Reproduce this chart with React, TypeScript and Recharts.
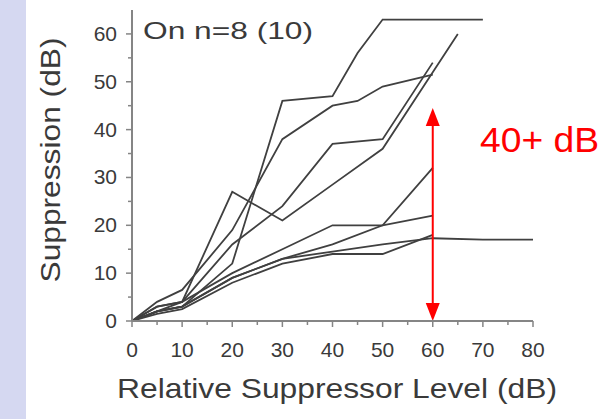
import {LineChart, Line, XAxis, YAxis, ReferenceLine} from "recharts";

// relative suppressor level (dB) and suppression (dB) for each curve
const levelsA = [0, 5, 10, 20, 30, 40, 45, 50, 60, 70];
const suppA = [0, 2, 3, 12, 46, 47, 56, 63, 63, 63];
const levelsB = [0, 5, 10, 20, 30, 40, 50, 60, 65];
const suppB = [0, 3, 4, 27, 21, 28.5, 36, 52, 60];
const levelsC = [0, 5, 10, 20, 30, 40, 50, 60];
const suppC = [0, 3, 4, 16, 24, 37, 38, 54];
const levelsD = [0, 5, 10, 20, 30, 40, 45, 50, 60];
const suppD = [0, 4, 6.5, 19, 38, 45, 46, 49, 51.5];
const levelsE = [0, 5, 10, 20, 30, 40, 50, 60];
const suppE = [0, 2, 3, 9, 13, 16, 20, 32];
const levelsF = [0, 5, 10, 20, 30, 40, 50, 60];
const suppF = [0, 2, 4, 10, 15, 20, 20, 22];
const levelsG = [0, 5, 10, 20, 30, 40, 50, 60];
const suppG = [0, 1.5, 2.5, 8, 12, 14, 14, 18];
const levelsH = [0, 5, 10, 20, 30, 40, 50, 60, 70, 80];
const suppH = [0, 2, 3, 9, 13, 14.5, 16, 17.3, 17, 17];

const xTicks = [0, 5, 10, 15, 20, 25, 30, 35, 40, 45, 50, 55, 60, 65, 70, 75, 80];
const yTicks = [0, 5, 10, 15, 20, 25, 30, 35, 40, 45, 50, 55, 60];

// the red arrow: at 60 dB, from 0 up to ~44 dB
const arrowLevel = 60;
const arrowFrom = 0;
const arrowTo = 44.5;

function toPoints(levels: number[], supp: number[]) {
  return levels.map((x, i) => ({x: x, y: supp[i]}));
}

const series = [
  toPoints(levelsA, suppA),
  toPoints(levelsB, suppB),
  toPoints(levelsC, suppC),
  toPoints(levelsD, suppD),
  toPoints(levelsE, suppE),
  toPoints(levelsF, suppF),
  toPoints(levelsG, suppG),
  toPoints(levelsH, suppH),
];

const axisColor = "#858585";
const textColor = "#3a3a3a";
const font = "'Liberation Sans', Arial, sans-serif";

function YTick(props: any) {
  const {x, y, payload} = props;
  const major = payload.value % 10 === 0;
  return (
    <g>
      <line x1={x - (major ? 6 : 4)} y1={y} x2={x} y2={y} stroke={axisColor} strokeWidth={1.5} />
      {major && (
        <text x={x - 15} y={y + 7} textAnchor="end" fontSize={21} fill={textColor} fontFamily={font}>
          {payload.value}
        </text>
      )}
    </g>
  );
}

function XTick(props: any) {
  const {x, y, payload} = props;
  const major = payload.value % 10 === 0;
  return (
    <g>
      <line x1={x} y1={y} x2={x} y2={y + (major ? 6 : 4)} stroke={axisColor} strokeWidth={1.5} />
      {major && (
        <text x={x} y={y + 36} textAnchor="middle" fontSize={21} fill={textColor} fontFamily={font}>
          {payload.value}
        </text>
      )}
    </g>
  );
}

function Arrow(props: any) {
  const {x1, y1, x2, y2} = props;
  const top = Math.min(y1, y2);
  const bottom = Math.max(y1, y2);
  const x = x1;
  return (
    <g>
      <line x1={x} y1={top + 16} x2={x2} y2={bottom - 16} stroke="#ff0000" strokeWidth={2} />
      <polygon points={`${x},${top} ${x - 7},${top + 18} ${x + 7},${top + 18}`} fill="#ff0000" />
      <polygon points={`${x},${bottom} ${x - 7},${bottom - 18} ${x + 7},${bottom - 18}`} fill="#ff0000" />
    </g>
  );
}

export default function App() {
  return (
    <div style={{position: "absolute", left: 0, top: 0, width: 610, height: 419, background: "#ffffff"}}>
      <div style={{position: "absolute", left: 0, top: 0, width: 26, height: 419, background: "#d5d8f1"}} />
      <div style={{position: "absolute", left: 0, top: 0}}>
        <LineChart width={610} height={419} margin={{top: 10, right: 77, bottom: 38, left: 72}}>
          <XAxis
            type="number"
            dataKey="x"
            domain={[0, 80]}
            ticks={xTicks}
            interval={0}
            tickSize={0}
            tickMargin={0}
            tickLine={false}
            tick={<XTick />}
            height={60}
            stroke={axisColor}
            strokeWidth={2}
            allowDuplicatedCategory={false}
          />
          <YAxis
            type="number"
            dataKey="y"
            domain={[0, 65]}
            ticks={yTicks}
            interval={0}
            tickSize={0}
            tickMargin={0}
            tickLine={false}
            tick={<YTick />}
            width={60}
            stroke={axisColor}
            strokeWidth={2}
          />
          {series.map((pts, i) => (
            <Line
              key={i}
              data={pts}
              dataKey="y"
              type="linear"
              stroke="#404040"
              strokeWidth={1.8}
              dot={false}
              activeDot={false}
              isAnimationActive={false}
            />
          ))}
          <ReferenceLine
            segment={[
              {x: arrowLevel, y: arrowFrom},
              {x: arrowLevel, y: arrowTo},
            ]}
            shape={<Arrow />}
          />
          <text x={143} y={39} fontSize={24} fill={textColor} fontFamily={font} textLength={170} lengthAdjust="spacingAndGlyphs">
            On n=8 (10)
          </text>
          <text x={480} y={152} fontSize={35} fill="#ff0000" fontFamily={font} textLength={119} lengthAdjust="spacingAndGlyphs">
            40+ dB
          </text>
          <text x={337} y={398} textAnchor="middle" fontSize={28} fill={textColor} fontFamily={font} textLength={440} lengthAdjust="spacingAndGlyphs">
            Relative Suppressor Level (dB)
          </text>
          <text
            x={60}
            y={160}
            transform="rotate(-90 60 160)"
            textAnchor="middle"
            fontSize={28}
            fill={textColor}
            fontFamily={font}
            textLength={245}
            lengthAdjust="spacingAndGlyphs"
          >
            Suppression (dB)
          </text>
        </LineChart>
      </div>
    </div>
  );
}
